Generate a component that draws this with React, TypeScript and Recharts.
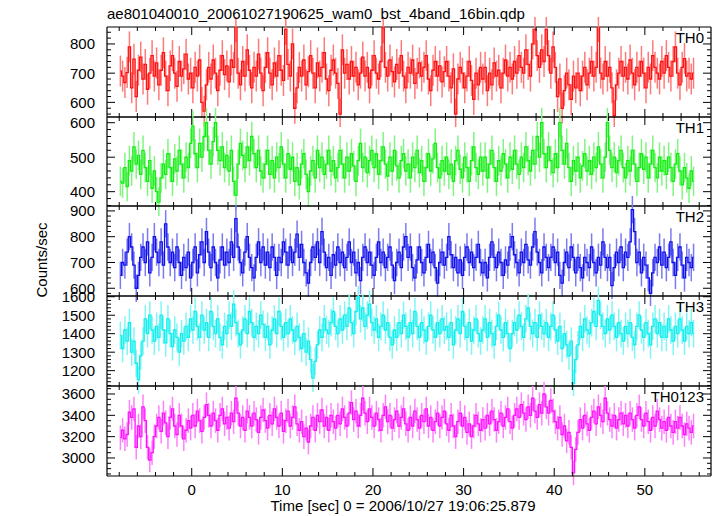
import { ComposedChart, Line, XAxis, YAxis, ErrorBar, ReferenceLine } from "recharts"

// light curve bins: 0.25 s, first bin centre at -7.875 s
const T_START = -7.875
const T_BIN = 0.25

const TH0 = [
  707, 690, 668, 702, 790, 650, 748, 620, 710, 755, 680, 730, 645, 700, 760, 690,
  735, 660, 710, 770, 690, 640, 725, 760, 700, 655, 740, 690, 715, 765, 680, 700,
  650, 720, 690, 745, 600, 570, 660, 720, 680, 745, 700, 640, 710, 760, 695, 725,
  670, 745, 720, 860, 700, 660, 740, 690, 780, 710, 650, 720, 690, 765, 700, 640,
  720, 770, 700, 660, 735, 690, 760, 710, 675, 850, 730, 690, 800, 580, 650, 720,
  690, 745, 660, 705, 760, 700, 650, 735, 690, 720, 770, 680, 640, 710, 745, 700,
  665, 560, 780, 700, 730, 680, 740, 690, 720, 660, 700, 755, 690, 720, 650, 710,
  760, 700, 680, 740, 855, 720, 690, 745, 705, 670, 730, 700, 760, 690, 650, 720,
  700, 745, 665, 700, 735, 690, 720, 760, 680, 640, 710, 740, 690, 725, 670, 705,
  740, 690, 650, 715, 560, 680, 720, 700, 650, 690, 740, 675, 610, 700, 660, 720,
  680, 720, 640, 700, 660, 735, 690, 710, 650, 700, 745, 690, 720, 680, 740, 700,
  760, 720, 700, 780, 730, 690, 800, 850, 760, 720, 780, 740, 850, 760, 700, 790,
  720, 620, 680, 580, 640, 700, 660, 610, 690, 650, 700, 640, 690, 720, 660, 700,
  740, 690, 720, 860, 700, 680, 740, 690, 720, 650, 555, 660, 700, 740, 690, 720,
  680, 745, 700, 660, 720, 690, 740, 700, 650, 720, 680, 760, 720, 700, 680, 740,
  700, 760, 720, 690, 740, 790, 700, 660, 720, 750, 690, 700, 680, 700,
]

const TH1 = [
  430, 425, 470, 415, 490, 460, 530, 480, 505, 450, 520, 470, 430, 490, 410, 460,
  400, 370, 440, 480, 450, 510, 470, 430, 495, 460, 520, 480, 440, 500, 470, 540,
  590, 510, 470, 540, 500, 560, 600, 520, 480, 545, 600, 520, 490, 530, 470, 505,
  460, 520, 430, 390, 480, 540, 505, 470, 530, 490, 560, 510, 470, 520, 460, 440,
  480, 520, 450, 490, 440, 500, 470, 530, 480, 440, 510, 465, 500, 430, 470, 420,
  480, 510, 450, 400, 460, 490, 440, 520, 470, 500, 450, 480, 520, 460, 490, 440,
  470, 520, 480, 440, 500, 460, 510, 475, 430, 490, 540, 470, 500, 455, 490, 520,
  470, 510, 450, 490, 530, 480, 445, 500, 460, 520, 475, 440, 490, 510, 460, 480,
  440, 500, 470, 520, 455, 490, 430, 470, 510, 460, 495, 540, 470, 440, 490, 460,
  500, 450, 480, 430, 490, 520, 465, 440, 500, 470, 430, 490, 530, 470, 450, 500,
  460, 500, 440, 480, 520, 470, 430, 490, 460, 510, 480, 440, 500, 465, 520, 480,
  450, 500, 470, 530, 490, 460, 520, 480, 560, 500, 600, 510, 470, 530, 490, 455,
  510, 470, 600, 520, 480, 540, 470, 430, 490, 460, 500, 440, 475, 510, 460, 490,
  450, 500, 470, 530, 480, 440, 500, 600, 520, 470, 500, 455, 490, 520, 470, 440,
  490, 460, 520, 480, 430, 470, 510, 465, 500, 440, 480, 520, 470, 440, 500, 460,
  490, 450, 500, 470, 430, 480, 510, 460, 420, 470, 440, 410, 460, 430,
]

const TH2 = [
  650, 700, 690, 740, 800, 760, 690, 600, 650, 720, 760, 700, 780, 660, 720, 800,
  740, 700, 780, 690, 850, 760, 700, 740, 680, 760, 700, 650, 720, 680, 740, 640,
  700, 760, 660, 730, 780, 700, 820, 740, 680, 760, 700, 640, 710, 760, 690, 740,
  700, 780, 720, 870, 760, 700, 660, 740, 800, 720, 680, 640, 720, 780, 700, 760,
  690, 740, 680, 760, 720, 650, 720, 700, 780, 740, 690, 760, 700, 740, 810, 720,
  770, 700, 660, 620, 700, 760, 720, 780, 700, 820, 740, 680, 720, 650, 730, 690,
  760, 700, 740, 680, 720, 780, 700, 740, 660, 700, 630, 720, 760, 700, 740, 690,
  650, 720, 780, 700, 740, 680, 720, 760, 690, 630, 700, 740, 680, 760, 800, 720,
  760, 680, 640, 710, 760, 700, 660, 720, 770, 700, 740, 680, 620, 700, 740, 690,
  720, 800, 730, 680, 720, 660, 710, 650, 720, 760, 700, 740, 680, 720, 770, 700,
  660, 700, 640, 720, 780, 720, 680, 740, 700, 650, 710, 690, 760, 800, 730, 700,
  660, 740, 700, 770, 710, 690, 760, 820, 740, 700, 660, 760, 720, 680, 720, 760,
  700, 740, 650, 620, 700, 740, 680, 760, 720, 660, 720, 680, 640, 720, 700, 680,
  760, 700, 660, 720, 690, 780, 720, 680, 720, 610, 680, 740, 700, 760, 680, 740,
  720, 780, 905, 820, 700, 740, 660, 720, 690, 640, 580, 660, 720, 700, 760, 690,
  740, 680, 720, 780, 700, 650, 720, 760, 690, 640, 720, 700, 680, 720,
]

const TH3 = [
  1390, 1320, 1420, 1360, 1460, 1300, 1360, 1240, 1150, 1280, 1360, 1480, 1400, 1500, 1420, 1360,
  1440, 1380, 1500, 1420, 1350, 1480, 1400, 1330, 1420, 1380, 1300, 1400, 1360, 1440, 1380, 1480,
  1420, 1520, 1440, 1380, 1500, 1420, 1460, 1380, 1520, 1440, 1400, 1480, 1380, 1340, 1440, 1400,
  1500, 1440, 1560, 1460, 1400, 1340, 1420, 1480, 1400, 1520, 1460, 1380, 1440, 1400, 1500, 1450,
  1380, 1440, 1340, 1420, 1480, 1400, 1520, 1440, 1380, 1460, 1400, 1480, 1420, 1360, 1440, 1380,
  1320, 1400, 1300, 1360, 1260, 1160, 1250, 1340, 1420, 1380, 1480, 1420, 1400, 1460, 1520, 1440,
  1400, 1480, 1420, 1500, 1440, 1540, 1460, 1400, 1520, 1600, 1480, 1540, 1440, 1500, 1560, 1460,
  1420, 1480, 1380, 1440, 1500, 1420, 1460, 1380, 1340, 1420, 1380, 1460, 1400, 1500, 1440, 1380,
  1460, 1400, 1520, 1440, 1380, 1460, 1420, 1360, 1440, 1500, 1420, 1380, 1460, 1400, 1480, 1420,
  1440, 1380, 1460, 1340, 1420, 1480, 1400, 1520, 1440, 1380, 1460, 1360, 1420, 1480, 1400, 1360,
  1420, 1480, 1380, 1460, 1400, 1340, 1440, 1500, 1420, 1380, 1460, 1400, 1320, 1400, 1460, 1420,
  1500, 1440, 1380, 1480, 1540, 1440, 1400, 1460, 1380, 1500, 1440, 1400, 1460, 1380, 1440, 1500,
  1420, 1360, 1440, 1320, 1400, 1340, 1280, 1360, 1130, 1260, 1340, 1440, 1380, 1480, 1420, 1400,
  1460, 1520, 1440, 1580, 1500, 1440, 1400, 1480, 1420, 1500, 1440, 1380, 1460, 1400, 1360, 1440,
  1400, 1460, 1380, 1340, 1440, 1500, 1420, 1380, 1460, 1400, 1340, 1440, 1480, 1400, 1460, 1380,
  1440, 1380, 1480, 1420, 1360, 1440, 1400, 1480, 1420, 1360, 1440, 1400, 1460, 1400,
]

const TH0123 = [
  3190, 3260, 3180, 3220, 3430, 3380, 3460, 3100, 3300, 3200, 3480, 3350, 3100, 2980, 3050, 3200,
  3300, 3380, 3250, 3420, 3330, 3200, 3380, 3460, 3300, 3220, 3400, 3300, 3180, 3260, 3350, 3280,
  3400, 3300, 3440, 3350, 3250, 3380, 3500, 3400, 3300, 3420, 3350, 3260, 3400, 3460, 3320, 3380,
  3280, 3420, 3340, 3560, 3420, 3300, 3380, 3260, 3440, 3380, 3300, 3420, 3360, 3240, 3380, 3450,
  3350, 3280, 3400, 3320, 3460, 3380, 3300, 3420, 3250, 3350, 3440, 3300, 3380, 3480, 3320, 3260,
  3340, 3200, 3280, 3150, 3300, 3380, 3260, 3400, 3340, 3450, 3300, 3380, 3260, 3400, 3340, 3280,
  3400, 3320, 3460, 3380, 3300, 3420, 3520, 3360, 3440, 3300, 3400, 3560, 3420, 3340, 3460, 3380,
  3300, 3420, 3360, 3260, 3400, 3480, 3340, 3400, 3280, 3360, 3440, 3300, 3380, 3460, 3320, 3260,
  3380, 3300, 3440, 3360, 3280, 3400, 3340, 3460, 3300, 3380, 3260, 3340, 3420, 3300, 3380, 3440,
  3320, 3260, 3400, 3300, 3200, 3340, 3420, 3300, 3380, 3240, 3320, 3200, 3300, 3400, 3320, 3260,
  3360, 3280, 3400, 3320, 3440, 3360, 3260, 3340, 3420, 3300, 3380, 3460, 3340, 3280, 3400, 3460,
  3380, 3500, 3420, 3360, 3480, 3400, 3560, 3440, 3380, 3500, 3420, 3600, 3480, 3420, 3540, 3440,
  3340, 3280, 3380, 3220, 3300, 3160, 3240, 3100, 2860, 3080, 3240, 3360, 3280, 3400, 3320, 3260,
  3380, 3440, 3320, 3480, 3400, 3340, 3560, 3420, 3360, 3300, 3400, 3280, 3360, 3420, 3320, 3400,
  3300, 3420, 3360, 3280, 3400, 3480, 3360, 3300, 3420, 3340, 3260, 3380, 3300, 3440, 3360, 3280,
  3340, 3260, 3380, 3300, 3240, 3340, 3280, 3380, 3300, 3220, 3320, 3280, 3240, 3300,
]

const X_DOMAIN = [-9.35, 57.3]
const X_MAJOR = [0, 10, 20, 30, 40, 50]
const X_TICKS: number[] = []
for (let t = -8; t <= 56; t += 2) X_TICKS.push(t)

const PLOT_L = 107
const PLOT_R = 711
const PAD = 10
const FONT = "'Liberation Sans', Arial, Helvetica, sans-serif"

const panels = [
  { name: "TH0", values: TH0, err: 53, top: 27, bottom: 117, domain: [550, 858], major: [600, 700, 800], minor: 20, line: "#ff1010", bar: "#ff7a7a" },
  { name: "TH1", values: TH1, err: 43, top: 117, bottom: 206, domain: [358.5, 616.5], major: [400, 500, 600], minor: 20, line: "#10ee10", bar: "#80f580" },
  { name: "TH2", values: TH2, err: 53, top: 206, bottom: 296, domain: [570, 919], major: [600, 700, 800, 900], minor: 20, line: "#1010ee", bar: "#7a7af2" },
  { name: "TH3", values: TH3, err: 75, top: 296, bottom: 386, domain: [1117, 1604], major: [1200, 1300, 1400, 1500, 1600], minor: 20, line: "#10eeee", bar: "#80f5f5" },
  { name: "TH0123", values: TH0123, err: 115, top: 386, bottom: 476, domain: [2831, 3675], major: [3000, 3200, 3400, 3600], minor: 50, line: "#ff10ff", bar: "#ff80ff" },
]

function Panel({ p, last }: { p: (typeof panels)[number]; last: boolean }) {
  const plotH = p.bottom - p.top
  const axisH = last ? 30 : PAD
  const height = plotH + PAD + axisH
  const rows = p.values.map((v, i) => ({ t: T_START + i * T_BIN, v, e: p.err }))
  const yTicks: number[] = []
  for (let v = Math.ceil(p.domain[0] / p.minor) * p.minor; v <= p.domain[1]; v += p.minor) yTicks.push(v)
  const top = PAD
  const bottom = PAD + plotH

  const yTick = (props: any) => {
    const { y, payload } = props
    const major = p.major.includes(payload.value)
    const len = major ? 8 : 4
    return (
      <g>
        <line x1={PLOT_L} x2={PLOT_L + len} y1={y} y2={y} stroke="#000" />
        <line x1={PLOT_R - len} x2={PLOT_R} y1={y} y2={y} stroke="#000" />
        {major && (
          <text x={PLOT_L - 12} y={y} dy="0.36em" textAnchor="end" fontSize={15} fontFamily={FONT} fill="#000">
            {payload.value}
          </text>
        )}
      </g>
    )
  }

  const xTick = (props: any) => {
    const { x, payload } = props
    const major = X_MAJOR.includes(payload.value)
    const len = major ? 8 : 4
    return (
      <g>
        <line x1={x} x2={x} y1={bottom} y2={bottom - len} stroke="#000" />
        <line x1={x} x2={x} y1={top} y2={top + len} stroke="#000" />
        {last && major && (
          <text x={x} y={bottom + 19} textAnchor="middle" fontSize={15} fontFamily={FONT} fill="#000">
            {payload.value}
          </text>
        )}
      </g>
    )
  }

  return (
    <div style={{ position: "absolute", left: 0, top: p.top - PAD, width: 717, height }}>
      <ComposedChart width={717} height={height} data={rows} margin={{ top: PAD, right: 717 - PLOT_R, bottom: 0, left: 0 }}>
        <XAxis
          dataKey="t"
          type="number"
          domain={X_DOMAIN}
          allowDataOverflow
          ticks={X_TICKS}
          interval={0}
          height={axisH}
          tickLine={false}
          axisLine={{ stroke: "#000", strokeWidth: 1.2 }}
          tick={xTick}
        />
        <YAxis
          type="number"
          domain={p.domain}
          allowDataOverflow
          ticks={yTicks}
          interval={0}
          width={PLOT_L}
          tickLine={false}
          axisLine={{ stroke: "#000", strokeWidth: 1.2 }}
          tick={yTick}
        />
        <ReferenceLine y={p.domain[1]} stroke="#000" strokeWidth={1.2} />
        <ReferenceLine x={X_DOMAIN[1]} stroke="#000" strokeWidth={1.2} />
        <Line dataKey="v" stroke="none" dot={false} isAnimationActive={false}>
          <ErrorBar dataKey="e" width={0} stroke={p.bar} strokeWidth={1.5} direction="y" isAnimationActive={false} />
        </Line>
        <Line type="step" dataKey="v" stroke={p.line} strokeWidth={1.3} dot={false} isAnimationActive={false} />
      </ComposedChart>
    </div>
  )
}

export default function App() {
  return (
    <div style={{ position: "absolute", left: 0, top: 0, width: 717, height: 516, background: "#fff", fontFamily: FONT }}>
      {panels.map((p, i) => (
        <Panel key={p.name} p={p} last={i === panels.length - 1} />
      ))}
      <svg width={717} height={516} style={{ position: "absolute", left: 0, top: 0, pointerEvents: "none" }}>
        <text x={PLOT_L} y={19} fontSize={15} fontFamily={FONT} fill="#000">
          ae801040010_20061027190625_wam0_bst_4band_16bin.qdp
        </text>
        <text x={47} y={260} fontSize={15} fontFamily={FONT} fill="#000" textAnchor="middle" transform="rotate(-90 47 260)">
          Counts/sec
        </text>
        <text x={403} y={511} fontSize={15} fontFamily={FONT} fill="#000" textAnchor="middle">
          Time [sec] 0 = 2006/10/27 19:06:25.879
        </text>
        {panels.map((p) => (
          <text key={p.name} x={704} y={p.top + 16} fontSize={15} fontFamily={FONT} fill="#000" textAnchor="end">
            {p.name}
          </text>
        ))}
      </svg>
    </div>
  )
}
